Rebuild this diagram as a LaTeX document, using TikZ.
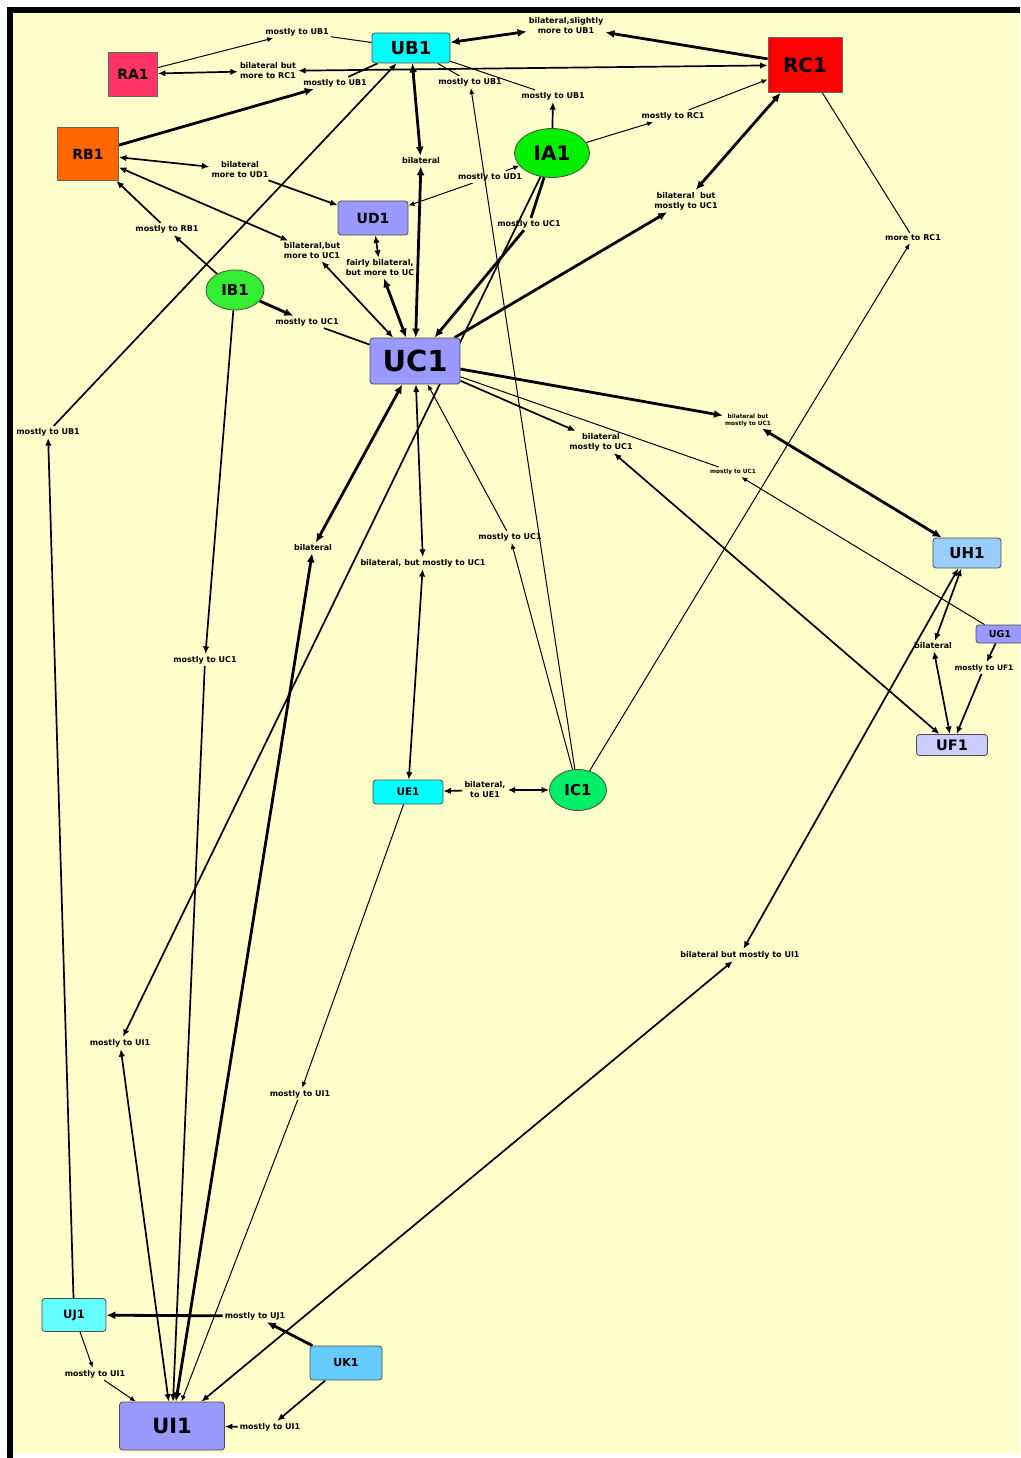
\documentclass[tikz,border=0pt]{standalone}
\usepackage{fontspec}
\setmainfont{DejaVu Sans}
\usetikzlibrary{shapes.geometric,arrows.meta}

\definecolor{paper}{HTML}{FFFFCC}
\definecolor{ucyan}{HTML}{00FFFF}
\definecolor{paleaqua}{HTML}{66FFFF}
\definecolor{skyblue}{HTML}{66CCFF}
\definecolor{iceblue}{HTML}{99CCFF}
\definecolor{lavender}{HTML}{9999FF}
\definecolor{palelav}{HTML}{CCCCFF}
\definecolor{rose}{HTML}{FF3366}
\definecolor{tangerine}{HTML}{FF6600}
\definecolor{scarlet}{HTML}{FF0000}
\definecolor{limegreen}{HTML}{00F000}
\definecolor{leafgreen}{HTML}{33EE33}
\definecolor{mintgreen}{HTML}{00EE66}

\pgfdeclarelayer{back}
\pgfdeclarelayer{wires}
\pgfsetlayers{back,wires,main}

\begin{document}
\begin{tikzpicture}[
  x=1pt, y=-1pt,
  fs/.style={font=\bfseries\fontsize{#1}{#1}\selectfont},
  concept/.style={draw=black!70, line width=0.8pt, rounded corners=3pt, inner sep=0pt},
  square/.style={draw=black!60, line width=0.8pt, inner sep=0pt},
  idea/.style={ellipse, draw=black!70, line width=0.8pt, inner sep=0pt},
  link/.style={font=\bfseries\fontsize{8}{10}\selectfont, align=center, inner sep=2pt},
  minilink/.style={link, font=\bfseries\fontsize{5.8}{7}\selectfont},
  lite/.style={line width=1pt, >={Latex[length=6pt,width=5pt]}},
  mid/.style={line width=1.7pt, >={Latex[length=7.5pt,width=6.5pt]}},
  heavy/.style={line width=2.8pt, >={Latex[length=9pt,width=8pt]}}
]
  \useasboundingbox (0,0) rectangle (1020,1458);
  \begin{pgfonlayer}{back}
    \fill[white] (0,0) rectangle (1020,1458);
    \fill[paper] (13,13) rectangle (1020,1453);
    \fill[black] (7,7) rectangle (1020,13);
    \fill[black] (7,7) rectangle (13,1458);
  \end{pgfonlayer}

  % concepts
  \node[concept, fill=ucyan, minimum width=78pt, minimum height=30pt, fs=18] (ub1) at (411,48) {UB1};
  \node[square, fill=rose, minimum width=49pt, minimum height=44pt, fs=14] (ra1) at (133,74) {RA1};
  \node[square, fill=scarlet, minimum width=74pt, minimum height=55pt, fs=20] (rc1) at (805,65) {RC1};
  \node[square, fill=tangerine, minimum width=61pt, minimum height=53pt, fs=14] (rb1) at (88,154) {RB1};
  \node[idea, fill=limegreen, minimum width=75pt, minimum height=49pt, fs=20] (ia1) at (552,153) {IA1};
  \node[concept, fill=lavender, minimum width=70pt, minimum height=34pt, fs=14] (ud1) at (373,218) {UD1};
  \node[idea, fill=leafgreen, minimum width=58pt, minimum height=40pt, fs=15] (ib1) at (235,290) {IB1};
  \node[concept, fill=lavender, minimum width=90pt, minimum height=46pt, fs=29] (uc1) at (415,361) {UC1};
  \node[concept, fill=iceblue, minimum width=68pt, minimum height=30pt, fs=15] (uh1) at (967,553) {UH1};
  \node[concept, fill=lavender, minimum width=48pt, minimum height=18pt, fs=9.5] (ug1) at (1000,634) {UG1};
  \node[concept, fill=palelav, minimum width=71pt, minimum height=21pt, fs=14.5] (uf1) at (952,745) {UF1};
  \node[concept, fill=ucyan, minimum width=70pt, minimum height=24pt, fs=10.5] (ue1) at (408,792) {UE1};
  \node[idea, fill=mintgreen, minimum width=57pt, minimum height=41pt, fs=15] (ic1) at (578,790) {IC1};
  \node[concept, fill=paleaqua, minimum width=64pt, minimum height=33pt, fs=11.5] (uj1) at (74,1315) {UJ1};
  \node[concept, fill=skyblue, minimum width=72pt, minimum height=34pt, fs=11] (uk1) at (346,1363) {UK1};
  \node[concept, fill=lavender, minimum width=105pt, minimum height=48pt, fs=21] (ui1) at (172,1426) {UI1};

  % linking phrases
  \node[link] (raub) at (297,32) {mostly to UB1};
  \node[link] (rarc) at (268,71) {bilateral but\\more to RC1};
  \node[link] (rbub) at (335,83) {mostly to UB1};
  \node[link] (ubrc) at (566,26) {bilateral,slightly\\more to UB1};
  \node[link] (icub) at (470,82) {mostly to UB1};
  \node[link] (iaub) at (553,96) {mostly to UB1};
  \node[link] (ubuc) at (421,161) {bilateral};
  \node[link] (rbud) at (240,170) {bilateral\\more to UD1};
  \node[link] (rbuc) at (312,251) {bilateral,but\\more to UC1};
  \node[link] (ibrb) at (167,229) {mostly to RB1};
  \node[link] (ibuc) at (307,322) {mostly to UC1};
  \node[link] (iaud) at (490,177) {mostly to UD1};
  \node[link] (uduc) at (380,268) {fairly bilateral,\\but more to UC};
  \node[link] (iarc) at (673,116) {mostly to RC1};
  \node[link] (iauc) at (529,224) {mostly to UC1};
  \node[link] (ucrc) at (686,201) {bilateral\ \ but\\mostly to UC1};
  \node[link] (icrc) at (913,238) {more to RC1};
  \node[minilink] (ucuh) at (748,420) {bilateral but\\mostly to UC1};
  \node[link] (ucuf) at (601,442) {bilateral\\mostly to UC1};
  \node[minilink] (ucug) at (733,472) {mostly to UC1};
  \node[link] (icuc) at (510,537) {mostly to UC1};
  \node[link] (ucue) at (423,563) {bilateral, but mostly to UC1};
  \node[link] (ucui) at (313,548) {bilateral};
  \node[link] (ibui) at (205,660) {mostly to UC1};
  \node[link] (ujub) at (48,432) {mostly to UB1};
  \node[link] (ueic) at (485,790) {bilateral,\\to UE1};
  \node[link] (ueui) at (300,1094) {mostly to UI1};
  \node[link] (iaui) at (120,1043) {mostly to UI1};
  \node[link] (uhui) at (740,955) {bilateral but mostly to UI1};
  \node[link] (uhuf) at (933,646) {bilateral};
  \node[link, font=\bfseries\fontsize{7.5}{9}\selectfont] (uguf) at (984,668) {mostly to UF1};
  \node[link] (ujui) at (95,1374) {mostly to UI1};
  \node[link] (ukuj) at (255,1316) {mostly to UJ1};
  \node[link] (ukui) at (270,1427) {mostly to UI1};

  \begin{pgfonlayer}{wires}
    % top row
    \draw[lite,->] (ra1) -- (raub);
    \draw[lite] (raub) -- (ub1);
    \draw[mid,<->] (ra1) -- (rarc);
    \draw[mid,<->] (rarc) -- (rc1);
    \draw[heavy,->] (rb1) -- (rbub);
    \draw[mid] (rbub) -- (ub1);
    \draw[heavy,<->] (ub1) -- (ubrc);
    \draw[heavy,->] (rc1) -- (ubrc);
    \draw[lite,->] (ic1) -- (icub);
    \draw[lite] (icub) -- (ub1);
    \draw[mid,->] (ia1) -- (iaub);
    \draw[lite] (iaub) -- (ub1);
    \draw[heavy,<->] (ub1) -- (ubuc);
    \draw[heavy,<->] (ubuc) -- (uc1);
    % RB1 and IB1
    \draw[mid,<->] (rb1) -- (rbud);
    \draw[mid,->] (rbud) -- (ud1);
    \draw[mid,<->] (rb1) -- (rbuc);
    \draw[mid,<->] (rbuc) -- (uc1);
    \draw[mid,->] (ib1) -- (ibrb);
    \draw[mid,->] (ibrb) -- (rb1);
    \draw[heavy,->] (ib1) -- (ibuc);
    \draw[mid] (ibuc) -- (uc1);
    \draw[mid,->] (ib1) -- (ibui);
    \draw[mid,->] (ibui) -- (ui1);
    % IA1
    \draw[lite,->] (iaud) -- (ia1);
    \draw[lite,->] (iaud) -- (ud1);
    \draw[mid,<->] (ud1) -- (uduc);
    \draw[heavy,<->] (uduc) -- (uc1);
    \draw[lite,->] (ia1) -- (iarc);
    \draw[lite,->] (iarc) -- (rc1);
    \draw[heavy] (ia1) -- (iauc);
    \draw[heavy,->] (iauc) -- (uc1);
    \draw[mid,->] (ia1) -- (iaui);
    \draw[mid,<->] (iaui) -- (ui1);
    % RC1
    \draw[heavy,->] (uc1) -- (ucrc);
    \draw[heavy,<->] (ucrc) -- (rc1);
    \draw[lite,->] (ic1) -- (icrc);
    \draw[lite] (icrc) -- (rc1);
    % UC1 to the right
    \draw[heavy,->] (uc1) -- (ucuh);
    \draw[heavy,<->] (ucuh) -- (uh1);
    \draw[mid,->] (uc1) -- (ucuf);
    \draw[mid,<->] (ucuf) -- (uf1);
    \draw[lite] (uc1) -- (ucug);
    \draw[lite,->] (ug1) -- (ucug);
    % UC1 downwards
    \draw[lite,->] (icuc) -- (uc1);
    \draw[lite,->] (ic1) -- (icuc);
    \draw[mid,<->] (uc1) -- (ucue);
    \draw[mid,<->] (ucue) -- (ue1);
    \draw[heavy,<->] (uc1) -- (ucui);
    \draw[heavy,<->] (ucui) -- (ui1);
    \draw[mid,->] (ueic) -- (ue1);
    \draw[mid,<->] (ueic) -- (ic1);
    \draw[lite,->] (ue1) -- (ueui);
    \draw[lite,->] (ueui) -- (ui1);
    % UH1, UG1, UF1
    \draw[mid,<->] (uh1) -- (uhui);
    \draw[mid,<->] (uhui) -- (ui1);
    \draw[mid,<->] (uh1) -- (uhuf);
    \draw[mid,<->] (uhuf) -- (uf1);
    \draw[mid,->] (ug1) -- (uguf);
    \draw[mid,->] (uguf) -- (uf1);
    % bottom left
    \draw[mid,->] (uj1) -- (ujub);
    \draw[mid,->] (ujub) -- (ub1);
    \draw[lite,->] (uj1) -- (ujui);
    \draw[lite,->] (ujui) -- (ui1);
    \draw[heavy,->] (uk1) -- (ukuj);
    \draw[heavy,->] (ukuj) -- (uj1);
    \draw[mid,->] (uk1) -- (ukui);
    \draw[mid,->] (ukui) -- (ui1);
  \end{pgfonlayer}
\end{tikzpicture}
\end{document}
